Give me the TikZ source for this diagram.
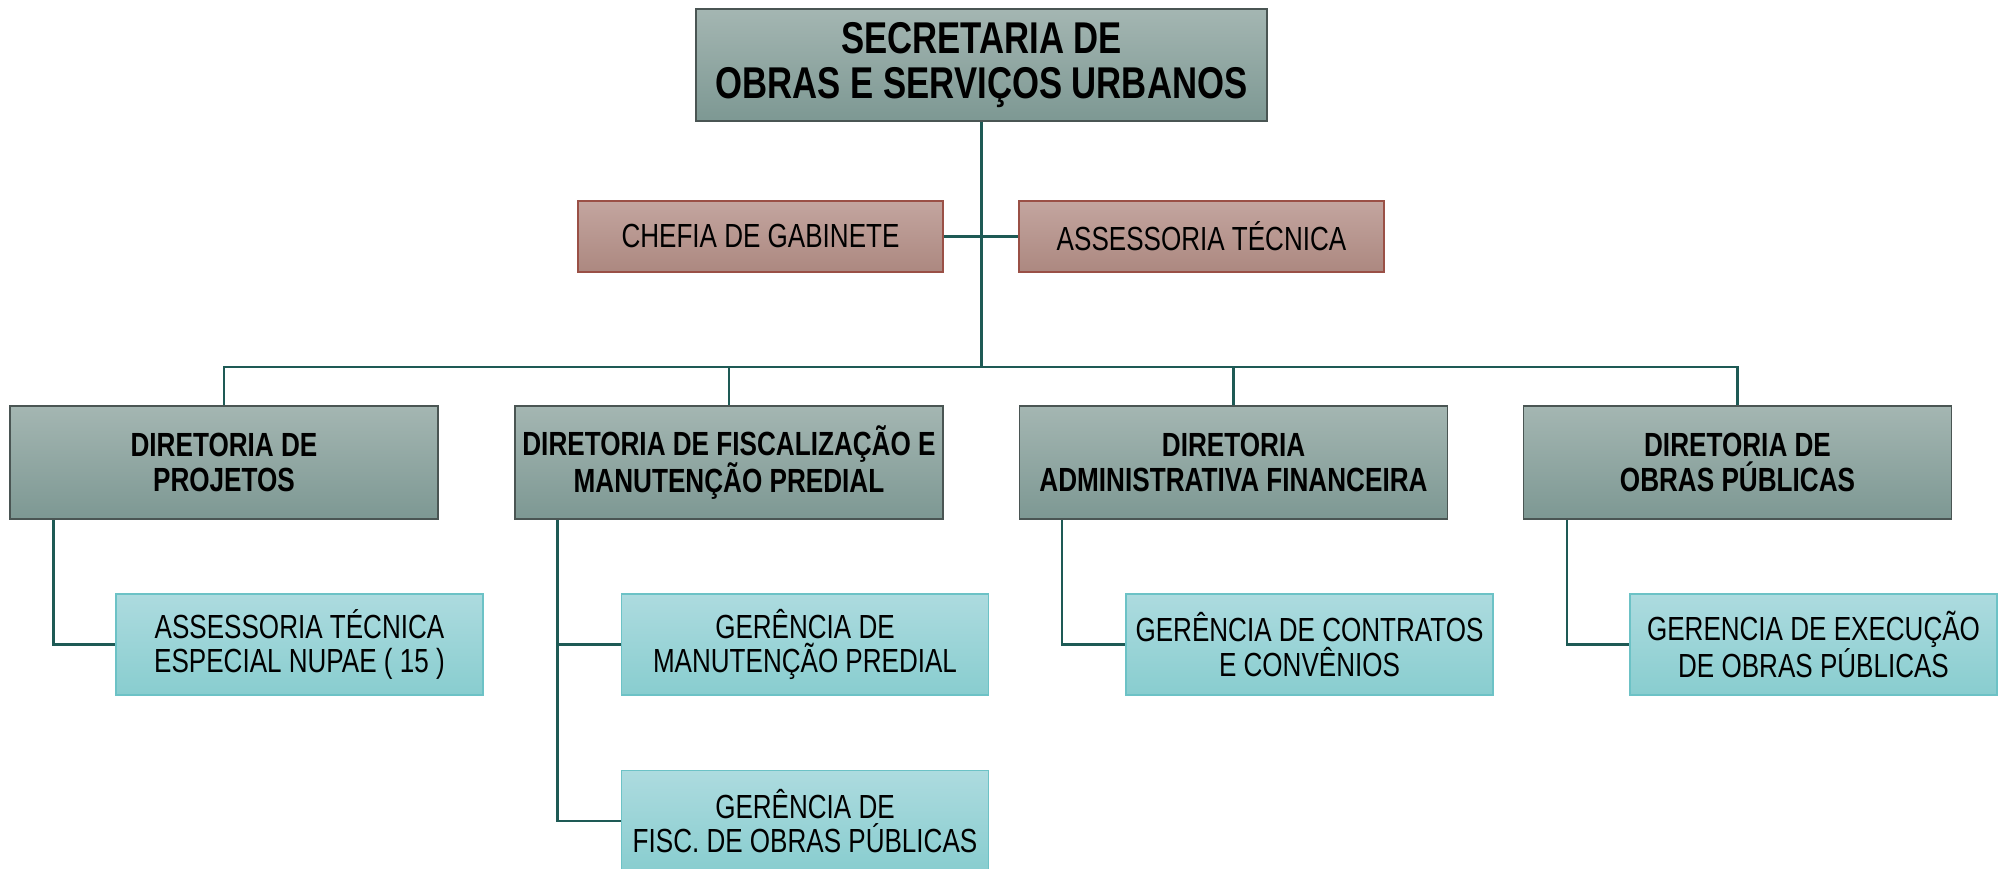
\documentclass[tikz,border=0pt]{standalone}
\usepackage{fontspec}
\setmainfont[FakeStretch=0.78]{Liberation Sans}
\definecolor{grtop}{HTML}{A4B6B2}
\definecolor{grbot}{HTML}{7D9893}
\definecolor{grdraw}{HTML}{4A5553}
\definecolor{rdtop}{HTML}{C3A59F}
\definecolor{rdbot}{HTML}{AC8880}
\definecolor{rddraw}{HTML}{9A5046}
\definecolor{cytop}{HTML}{ADDBDF}
\definecolor{cybot}{HTML}{88CDCF}
\definecolor{cydraw}{HTML}{6CC2C6}
\definecolor{linec}{HTML}{1E5A55}
\tikzset{
  base/.style={rectangle, align=center, inner sep=0pt, text=black},
  topbox/.style={base, top color=grtop, bottom color=grbot, draw=grdraw, line width=1.2pt,
     minimum width=571pt, minimum height=112pt, font=\fontsize{44.5}{45}\selectfont\bfseries},
  dirbox/.style={base, top color=grtop, bottom color=grbot, draw=grdraw, line width=1.2pt,
     minimum width=428pt, minimum height=113pt, font=\fontsize{33.5}{34.5}\selectfont\bfseries},
  redbox/.style={base, top color=rdtop, bottom color=rdbot, draw=rddraw, line width=1.2pt,
     minimum width=365pt, minimum height=71pt, font=\fontsize{33.4}{34.5}\selectfont},
  gerbox/.style={base, top color=cytop, bottom color=cybot, draw=cydraw, line width=1.2pt,
     minimum width=367pt, minimum height=101pt, font=\fontsize{33.4}{34.5}\selectfont},
  conn/.style={draw=linec, line width=2.8pt}
}
\begin{document}
\begin{tikzpicture}[x=1pt,y=-1pt]
\useasboundingbox (0,0) rectangle (2004,869);
\node[topbox] (top) at (981.5,65) {SECRETARIA DE\\OBRAS E SERVIÇOS URBANOS};
\node[redbox] (chefia) at (760.5,236.5) {CHEFIA DE GABINETE};
\node[redbox] (assess) at (1201.5,236.5) {ASSESSORIA TÉCNICA};
\node[dirbox] (d1) at (224,462.5) {DIRETORIA DE\\PROJETOS};
\node[dirbox] (d2) at (729,462.5) {DIRETORIA DE FISCALIZAÇÃO E\\MANUTENÇÃO PREDIAL};
\node[dirbox] (d3) at (1233.5,462.5) {DIRETORIA\\ADMINISTRATIVA FINANCEIRA};
\node[dirbox] (d4) at (1737.5,462.5) {DIRETORIA DE\\OBRAS PÚBLICAS};
\node[gerbox] (g1) at (299.5,644.5) {ASSESSORIA TÉCNICA\\ESPECIAL NUPAE ( 15 )};
\node[gerbox] (g2) at (805,644.5) {GERÊNCIA DE\\MANUTENÇÃO PREDIAL};
\node[gerbox] (g5) at (805,821) {GERÊNCIA DE\\FISC. DE OBRAS PÚBLICAS};
\node[gerbox] (g3) at (1309.5,644.5) {GERÊNCIA DE CONTRATOS\\E CONVÊNIOS};
\node[gerbox] (g4) at (1813.5,644.5) {GERENCIA DE EXECUÇÃO\\DE OBRAS PÚBLICAS};
\coordinate (bus) at (981.5,367);
\draw[conn] (top.south) -- (bus);
\draw[conn] (chefia.east) -- (assess.west);
\draw[conn] (d1.north) |- (bus);
\draw[conn] (d2.north) |- (bus);
\draw[conn] (d3.north) |- (bus);
\draw[conn] (d4.north) |- (bus);
\draw[conn] ([xshift=44pt]d1.south west) |- (g1.west);
\draw[conn] ([xshift=43pt]d2.south west) |- (g5.west);
\draw[conn] ([xshift=43pt]d2.south west |- g2.west) -- (g2.west);
\draw[conn] ([xshift=43pt]d3.south west) |- (g3.west);
\draw[conn] ([xshift=44pt]d4.south west) |- (g4.west);
\end{tikzpicture}
\end{document}
